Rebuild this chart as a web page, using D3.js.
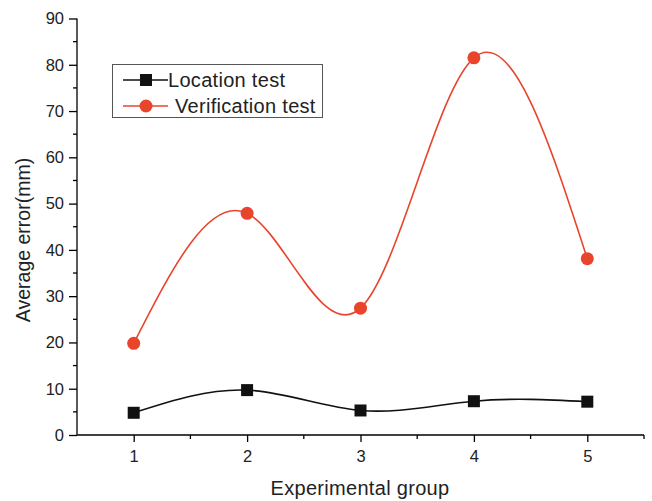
<!DOCTYPE html>
<html>
<head>
<meta charset="utf-8">
<script src="https://cdn.jsdelivr.net/npm/d3@7"></script>
<style>
  body { margin: 0; background: #fff; }
  svg { display: block; font-family: "Liberation Sans", Arial, sans-serif; }
</style>
</head>
<body>
<svg id="chart" width="652" height="501"></svg>
<script>
// chart data
const groups = [1, 2, 3, 4, 5];
const locationTest = [4.8, 9.7, 5.3, 7.3, 7.2];
const verificationTest = [19.8, 47.9, 27.4, 81.5, 38.1];
const yTicks = [0, 10, 20, 30, 40, 50, 60, 70, 80, 90];

const svg = d3.select('#chart');
const margin = { left: 77, right: 8, top: 17, bottom: 66 };
const width = 652, height = 501;

const x = d3.scaleLinear().domain([0.5, 5.5]).range([margin.left, width - margin.right]);
const y = d3.scaleLinear().domain([0, 90]).range([height - margin.bottom, margin.top + 1.5]);

const red = '#e8452c';

// y axis
const yAxis = d3.axisLeft(y).tickValues(yTicks).tickSize(8).tickPadding(5);
const gy = svg.append('g').attr('transform', `translate(${margin.left},0)`).call(yAxis);
gy.select('.domain').attr('d', `M0,${y(0)}V${y(90)}`);
gy.selectAll('.tick text').attr('font-size', 16.5).attr('fill', '#222');
gy.selectAll('.tick line').attr('stroke-width', 1.3);
gy.select('.domain').attr('stroke-width', 1.3);
// minor y ticks
svg.append('g').selectAll('line')
  .data(d3.range(5, 90, 10))
  .join('line')
  .attr('x1', margin.left - 4).attr('x2', margin.left)
  .attr('y1', d => y(d)).attr('y2', d => y(d))
  .attr('stroke', '#000').attr('stroke-width', 1.3);

// x axis
const xAxis = d3.axisBottom(x).tickValues(groups).tickSize(7).tickPadding(8).tickFormat(d3.format('d'));
const gx = svg.append('g').attr('transform', `translate(0,${y(0)})`).call(xAxis);
gx.select('.domain').attr('d', `M${margin.left},0H${width - margin.right}`).attr('stroke-width', 1.3);
gx.selectAll('.tick text').attr('font-size', 16.5).attr('fill', '#222');
gx.selectAll('.tick line').attr('stroke-width', 1.3);
svg.append('g').selectAll('line')
  .data(d3.range(1.5, 5.5, 1).concat([5.5]))
  .join('line')
  .attr('x1', d => x(d)).attr('x2', d => x(d))
  .attr('y1', y(0)).attr('y2', y(0) + 4)
  .attr('stroke', '#000').attr('stroke-width', 1.3);

// axis titles
svg.append('text')
  .attr('x', 360).attr('y', 495)
  .attr('text-anchor', 'middle')
  .attr('font-size', 20).attr('fill', '#222')
  .attr('letter-spacing', 0.3)
  .text('Experimental group');
svg.append('text')
  .attr('transform', 'translate(30,240) rotate(-90)')
  .attr('text-anchor', 'middle')
  .attr('font-size', 19.5).attr('fill', '#222')
  .text('Average error(mm)');

// lines
const line = d3.line()
  .x((d, i) => x(groups[i]))
  .y(d => y(d))
  .curve(d3.curveNatural);

svg.append('path').datum(verificationTest)
  .attr('d', line).attr('fill', 'none')
  .attr('stroke', red).attr('stroke-width', 1.6);
svg.append('path').datum(locationTest)
  .attr('d', line).attr('fill', 'none')
  .attr('stroke', '#111').attr('stroke-width', 1.6);

// markers
svg.append('g').selectAll('rect')
  .data(locationTest)
  .join('rect')
  .attr('x', (d, i) => x(groups[i]) - 6)
  .attr('y', d => y(d) - 6)
  .attr('width', 12).attr('height', 12)
  .attr('fill', '#111');
svg.append('g').selectAll('circle')
  .data(verificationTest)
  .join('circle')
  .attr('cx', (d, i) => x(groups[i]))
  .attr('cy', d => y(d))
  .attr('r', 6.5)
  .attr('fill', red);

// legend
const lg = svg.append('g');
lg.append('rect')
  .attr('x', 112.5).attr('y', 64.5).attr('width', 210).attr('height', 53)
  .attr('fill', '#fff').attr('stroke', '#555').attr('stroke-width', 1);
lg.append('line').attr('x1', 123).attr('x2', 168).attr('y1', 80).attr('y2', 80)
  .attr('stroke', '#111').attr('stroke-width', 1.6);
lg.append('rect').attr('x', 140).attr('y', 74).attr('width', 12).attr('height', 12).attr('fill', '#111');
lg.append('text').attr('x', 168).attr('y', 87).attr('font-size', 20).attr('fill', '#222')
  .attr('letter-spacing', 0.3).text('Location test');
lg.append('line').attr('x1', 123).attr('x2', 168).attr('y1', 106).attr('y2', 106)
  .attr('stroke', red).attr('stroke-width', 1.6);
lg.append('circle').attr('cx', 146).attr('cy', 106).attr('r', 6.5).attr('fill', red);
lg.append('text').attr('x', 175).attr('y', 113).attr('font-size', 20).attr('fill', '#222')
  .attr('letter-spacing', 0.3).text('Verification test');
</script>
</body>
</html>
